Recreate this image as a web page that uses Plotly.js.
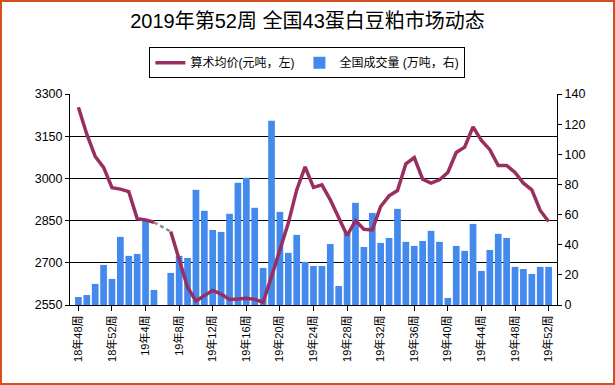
<!DOCTYPE html>
<html>
<head>
<meta charset="utf-8">
<script src="https://cdn.plot.ly/plotly-3.0.1.min.js"></script>
<style>
  html, body { margin: 0; padding: 0; background: #ffffff; }
  #wrap { position: relative; width: 615px; height: 385px; }
  #chart { width: 615px; height: 385px; }
  #frame { position: absolute; left: 0; top: 0; width: 615px; height: 385px; box-sizing: border-box; border: 2px solid #D4501E; pointer-events: none; }
</style>
</head>
<body>
<div id="wrap"><div id="chart"></div><div id="frame"></div></div>
<script>
const weeks = [
  "18年48周","18年49周","18年50周","18年51周","18年52周",
  "19年1周","19年2周","19年3周","19年4周","19年5周","19年6周","19年7周","19年8周",
  "19年9周","19年10周","19年11周","19年12周","19年13周","19年14周","19年15周","19年16周",
  "19年17周","19年18周","19年19周","19年20周","19年21周","19年22周","19年23周","19年24周",
  "19年25周","19年26周","19年27周","19年28周","19年29周","19年30周","19年31周","19年32周",
  "19年33周","19年34周","19年35周","19年36周","19年37周","19年38周","19年39周","19年40周",
  "19年41周","19年42周","19年43周","19年44周","19年45周","19年46周","19年47周","19年48周",
  "19年49周","19年50周","19年51周","19年52周"
];
const tickLabels = ["18年48周","18年52周","19年4周","19年8周","19年12周","19年16周","19年20周",
  "19年24周","19年28周","19年32周","19年36周","19年40周","19年44周","19年48周","19年52周"];

// 算术均价 (元/吨, left axis)
const avgPrice = [3253,3157,3078,3039,2967,2962,2953,2857,2852,2844,null,2811,2710,
  2613,2564,2583,2602,2589,2570,2571,2574,2570,2560,2651,2746,2841,2959,3041,2968,
  2977,2924,2858,2797,2850,2819,2817,2900,2938,2957,3052,3074,2997,2983,2995,3021,
  3092,3111,3183,3135,3102,3046,3046,3021,2983,2959,2886,2847];

// 全国成交量 (万吨, right axis)
const volume = [5.3,6.6,14.0,26.6,17.3,45.2,32.6,33.9,55.8,10.0,null,21.3,32.6,
  31.2,76.4,62.5,49.8,48.5,60.5,81.1,84.4,64.5,24.6,122.3,61.8,34.6,46.5,28.6,25.9,
  25.9,40.5,12.6,48.5,67.8,38.5,61.1,41.2,44.5,63.8,41.9,39.2,42.5,49.2,41.9,4.7,
  39.2,35.9,53.8,22.6,36.5,47.2,44.5,25.3,23.9,20.6,25.3,25.3];

// bridge across missing price weeks (drawn dashed grey)
const bridge = avgPrice.map(() => null);
for (let i = 0; i < avgPrice.length; i++) {
  if (avgPrice[i] === null) {
    let a = i - 1, b = i + 1;
    while (b < avgPrice.length && avgPrice[b] === null) b++;
    if (a >= 0 && b < avgPrice.length) { bridge[a] = avgPrice[a]; bridge[b] = avgPrice[b]; }
  }
}

const FONT = 'Liberation Sans, Arial, "Noto Sans CJK SC", sans-serif';

const traces = [
  {
    type: 'bar', x: weeks, y: volume, yaxis: 'y', name: '全国成交量 (万吨，右)',
    marker: { color: '#438AEC' }, legendrank: 2
  },
  {
    type: 'scatter', mode: 'lines', x: weeks, y: bridge, yaxis: 'y2', connectgaps: true,
    line: { color: '#8C8C8C', width: 2.5, dash: '4px,3px' }, showlegend: false, hoverinfo: 'skip'
  },
  {
    type: 'scatter', mode: 'lines', x: weeks, y: avgPrice, yaxis: 'y2', connectgaps: false,
    name: '算术均价(元吨，左)', line: { color: '#982F60', width: 3.5 }, legendrank: 1
  }
];

const layout = {
  width: 615, height: 385,
  margin: { l: 70, r: 58, t: 94, b: 80, pad: 0 },
  paper_bgcolor: '#ffffff', plot_bgcolor: '#ffffff',
  font: { family: FONT, color: '#000000', size: 12 },
  title: {
    text: '2019年第52周 全国43蛋白豆粕市场动态',
    font: { family: FONT, size: 20, color: '#000000' },
    x: 0.5, xref: 'container', xanchor: 'center',
    y: 1 - 21 / 385, yref: 'container', yanchor: 'middle'
  },
  bargap: 0.2,
  showlegend: true,
  legend: {
    orientation: 'h', x: 0.4875, xanchor: 'center', y: 1.222, yanchor: 'top',
    bordercolor: '#000000', borderwidth: 1, bgcolor: '#ffffff',
    font: { family: FONT, size: 12, color: '#000000' },
    traceorder: 'normal'
  },
  xaxis: {
    type: 'category', range: [-1, 57],
    tickvals: tickLabels, ticktext: tickLabels,
    tickangle: -90, tickfont: { family: FONT, size: 11, color: '#000000' },
    showline: true, linecolor: '#000000', linewidth: 1,
    ticks: 'outside', ticklen: 5, tickcolor: '#000000',
    showgrid: false, zeroline: false
  },
  yaxis: {
    side: 'right', range: [0, 140], dtick: 20, tick0: 0,
    showline: true, linecolor: '#000000', linewidth: 1,
    ticks: 'outside', ticklen: 4, tickcolor: '#000000',
    tickfont: { family: FONT, size: 12.5, color: '#000000' },
    showgrid: false, zeroline: false
  },
  yaxis2: {
    side: 'left', overlaying: 'y', range: [2550, 3300], dtick: 150, tick0: 2550,
    showline: true, linecolor: '#000000', linewidth: 1,
    ticks: 'outside', ticklen: 4, tickcolor: '#000000',
    tickfont: { family: FONT, size: 12.5, color: '#000000' },
    showgrid: true, gridcolor: '#000000', gridwidth: 1.2, zeroline: false
  }
};

Plotly.newPlot('chart', traces, layout, { staticPlot: true, displayModeBar: false });
</script>
</body>
</html>
